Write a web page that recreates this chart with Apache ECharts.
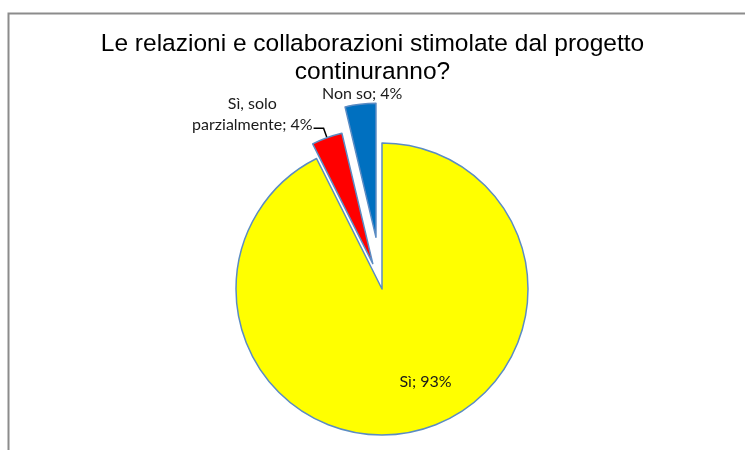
<!DOCTYPE html>
<html>
<head>
<meta charset="utf-8">
<script src="https://cdn.jsdelivr.net/npm/echarts@6/dist/echarts.min.js"></script>
<style>
  html, body { margin: 0; padding: 0; background: #ffffff; }
  #chart { width: 745px; height: 450px; }
</style>
</head>
<body>
<div id="chart"></div>
<script>
// Survey answers
const categories = ['Sì', 'Sì, solo parzialmente', 'Non so'];
const labelNames = ['Sì', 'Sì, solo\nparzialmente', 'Non so'];
const values = [92.6, 3.7, 3.7];
const sliceColors = ['#FFFF00', '#FF0000', '#0070C0'];
const titleText = 'Le relazioni e collaborazioni stimolate dal progetto\ncontinuranno?';

const labelFont = 'Lato, "Open Sans", sans-serif';
const edgeColor = '#5b8cc4';
const pieCenter = [382, 289];

// One layer per slice: the shown slice is drawn, the others stay empty
function sliceData(shown, explode) {
  return categories.map((name, i) => {
    const item = { name: name, value: values[i] };
    if (i === shown) {
      item.selected = explode;
      item.itemStyle = { color: sliceColors[i], borderColor: edgeColor, borderWidth: 1.5 };
    } else {
      item.itemStyle = { color: 'transparent', borderColor: 'transparent', borderWidth: 0 };
      item.label = { show: false };
      item.labelLine = { show: false };
    }
    return item;
  });
}

function pctLabel(p) {
  return labelNames[p.dataIndex] + '; ' + Math.round(p.percent) + '%';
}

const baseSeries = {
  type: 'pie',
  center: pieCenter,
  startAngle: 90,
  clockwise: true,
  avoidLabelOverlap: false,
  silent: true,
  animation: false,
  emphasis: { disabled: true }
};

const chart = echarts.init(document.getElementById('chart'), null, { renderer: 'canvas' });
chart.setOption({
  backgroundColor: '#ffffff',
  title: {
    text: titleText,
    left: 'center',
    top: 25,
    textStyle: {
      fontFamily: '"Liberation Sans", Arial, sans-serif',
      fontSize: 24.5,
      fontWeight: 'normal',
      lineHeight: 28,
      color: '#000000'
    }
  },
  graphic: [{
    type: 'rect',
    left: 6,
    top: 11,
    shape: { width: 800, height: 500 },
    style: { fill: 'none', stroke: '#8c8c8c', lineWidth: 2 },
    silent: true
  }],
  series: [
    Object.assign({}, baseSeries, {
      name: 'Sì',
      radius: 146,
      data: sliceData(0, false),
      label: {
        show: true,
        position: 'inside',
        formatter: pctLabel,
        fontFamily: labelFont,
        fontSize: 16,
        color: '#1a1a1a'
      },
      labelLayout: { dx: 26, dy: 19 }
    }),
    Object.assign({}, baseSeries, {
      name: 'Sì, solo parzialmente',
      radius: 134,
      selectedMode: 'single',
      selectedOffset: 27,
      data: sliceData(1, true),
      label: {
        show: true,
        position: 'outside',
        distanceToLabelLine: 1,
        formatter: function (p) {
          return pctLabel(p).split('\n').map(s => '{c|' + s + '}').join('\n');
        },
        padding: [0, 0, 27, 0],
        fontFamily: labelFont,
        fontSize: 16,
        lineHeight: 21,
        color: '#1a1a1a',
        rich: { c: { align: 'center', fontFamily: labelFont, fontSize: 16, lineHeight: 21, color: '#1a1a1a' } }
      },
      labelLine: {
        show: true,
        length: 10,
        length2: 10,
        lineStyle: { color: '#000000', width: 1.5 }
      }
    }),
    Object.assign({}, baseSeries, {
      name: 'Non so',
      radius: 134,
      selectedMode: 'single',
      selectedOffset: 52,
      data: sliceData(2, true),
      label: {
        show: true,
        position: 'outside',
        formatter: pctLabel,
        fontFamily: labelFont,
        fontSize: 16,
        color: '#1a1a1a'
      },
      labelLine: { show: false, length: 0, length2: 0 },
      labelLayout: { dx: 47, dy: -10 }
    })
  ]
});
</script>
</body>
</html>
